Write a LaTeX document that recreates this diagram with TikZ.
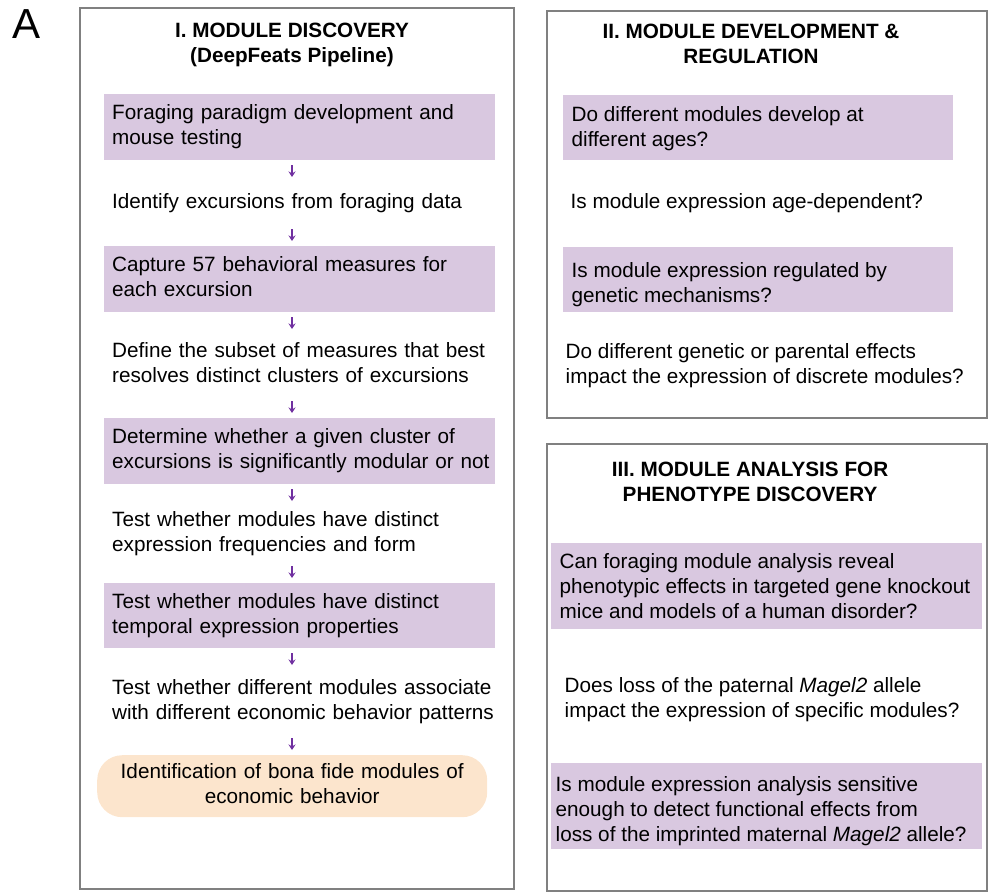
\documentclass[tikz,border=0pt]{standalone}
\usepackage{fontspec}
\setmainfont{Liberation Sans}
\usetikzlibrary{arrows.meta}
\definecolor{lav}{HTML}{D9C8E0}
\definecolor{peach}{HTML}{FCE5CD}
\definecolor{flowpurple}{HTML}{7030A0}
\definecolor{framegray}{HTML}{808080}
% multi-line text blocks whose baseline is the first row's baseline
\newcommand{\txtl}[1]{\begin{tabular}[t]{@{}l@{}}#1\end{tabular}}
\newcommand{\txtc}[1]{\begin{tabular}[t]{@{}c@{}}#1\end{tabular}}
\begin{document}
\begin{tikzpicture}[x=1pt,y=-1pt,
  every node/.style={font=\fontsize{20.7}{25}\selectfont, text=black},
  panel/.style={draw=framegray, line width=1.2pt},
  heading/.style={font=\fontsize{20.7}{25}\selectfont\bfseries, inner sep=0pt, anchor=base},
  stepbox/.style={fill=lav, draw=none, align=left, inner xsep=8pt, inner ysep=0pt,
    text width=375pt, anchor=north west},
  plainstep/.style={align=left, inner xsep=8pt, inner ysep=0pt,
    text width=375pt, anchor=north west},
  endbox/.style={fill=peach, draw=none, rounded corners=25pt, align=center,
    inner xsep=8pt, inner ysep=0pt, text width=374pt, anchor=north west},
  qbox/.style={fill=lav, draw=none, inner sep=0pt, anchor=north west},
  qtext/.style={inner sep=0pt, anchor=base west},
  flow/.style={draw=flowpurple, line width=1.3pt,
    -{Stealth[length=5.5pt,width=7pt]}, shorten <=5pt, shorten >=5pt}
]
\useasboundingbox (0,0) rectangle (992,894);

% panel letter
\node[font=\fontsize{42}{42}\selectfont, inner sep=0pt, anchor=base west] (letter) at (12,38) {A};

% ---------- panel I: pipeline ----------
\draw[panel] (80,8) rectangle (514,889);
\node[heading] (titleI) at (292,37) {\txtc{I. MODULE DISCOVERY\\(DeepFeats Pipeline)}};

\node[stepbox, minimum height=66pt] (s1) at (104,94)
  {\txtl{Foraging paradigm development and\\mouse testing}};
\node[plainstep, minimum height=42pt] (s2) at (104,182)
  {\txtl{Identify excursions from foraging data}};
\node[stepbox, minimum height=66pt] (s3) at (104,246)
  {\txtl{Capture 57 behavioral measures for\\each excursion}};
\node[plainstep, minimum height=62pt] (s4) at (104,334)
  {\txtl{Define the subset of measures that best\\resolves distinct clusters of excursions}};
\node[stepbox, minimum height=66pt] (s5) at (104,418)
  {\txtl{Determine whether a given cluster of\\excursions is significantly modular or not}};
\node[plainstep, minimum height=55pt] (s6) at (104,506)
  {\txtl{Test whether modules have distinct\\expression frequencies and form}};
\node[stepbox, minimum height=65pt] (s7) at (104,583)
  {\txtl{Test whether modules have distinct\\temporal expression properties}};
\node[plainstep, minimum height=63pt] (s8) at (104,670)
  {\txtl{Test whether different modules associate\\with different economic behavior patterns}};
\node[endbox, minimum height=62pt] (s9) at (97,755)
  {\txtc{Identification of bona fide modules of\\economic behavior}};

\coordinate (axis) at (292,0);
\foreach \a/\b in {s1/s2, s2/s3, s3/s4, s4/s5, s5/s6, s6/s7, s7/s8, s8/s9}
  \draw[flow] (\a.south -| axis) -- (\b.north -| axis);

% ---------- panel II: development and regulation ----------
\draw[panel] (547,11) rectangle (987,418);
\node[heading] (titleII) at (751,38) {\txtc{II. MODULE DEVELOPMENT \&\\REGULATION}};

\node[qbox, minimum width=390pt, minimum height=65pt] (d1box) at (563,95) {};
\node[qtext] (d1) at (571.5,121) {\txtl{Do different modules develop at\\different ages?}};
\node[qtext] (d2) at (570.5,208) {\txtl{Is module expression age-dependent?}};
\node[qbox, minimum width=390pt, minimum height=65pt] (d3box) at (563,247) {};
\node[qtext] (d3) at (571.5,277.5) {\txtl{Is module expression regulated by\\genetic mechanisms?}};
\node[qtext] (d4) at (565.5,358) {\txtl{Do different genetic or parental effects\\impact the expression of discrete modules?}};

% ---------- panel III: phenotype discovery ----------
\draw[panel] (547,444) rectangle (987,891);
\node[heading] (titleIII) at (750,476) {\txtc{III. MODULE ANALYSIS FOR\\PHENOTYPE DISCOVERY}};

\node[qbox, minimum width=431pt, minimum height=86pt] (p1box) at (551,543) {};
\node[qtext] (p1) at (559.5,568) {\txtl{Can foraging module analysis reveal\\phenotypic effects in targeted gene knockout\\mice and models of a human disorder?}};
\node[qtext] (p2) at (564.5,692) {\txtl{Does loss of the paternal \textit{Magel2} allele\\impact the expression of specific modules?}};
\node[qbox, minimum width=431pt, minimum height=86pt] (p3box) at (551,763) {};
\node[qtext] (p3) at (555.5,791) {\txtl{Is module expression analysis sensitive\\enough to detect functional effects from\\loss of the imprinted maternal \textit{Magel2} allele?}};
\end{tikzpicture}
\end{document}
